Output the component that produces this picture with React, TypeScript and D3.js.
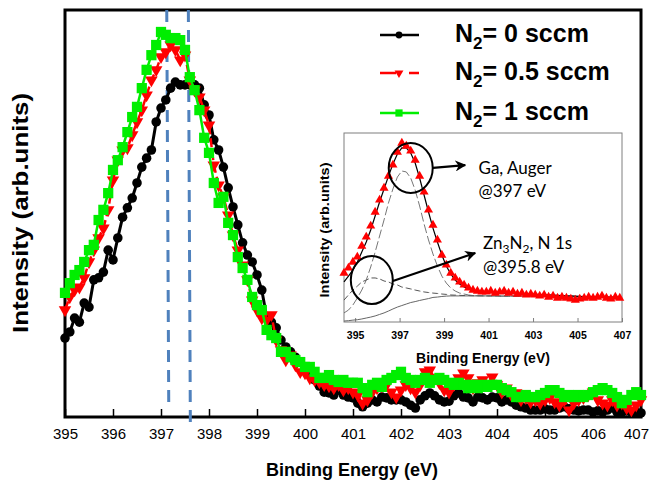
import { useEffect, useRef } from "react";
import * as d3 from "d3";

const W = 651;
const H = 481;

// main plot: binding energy grid (0.1 eV steps)
const ENERGY = d3.range(121).map((i) => +(395 + i * 0.1).toFixed(1));

const N2_0 = [
  19.4, 20.9, 24.3, 23.3, 28.0, 27.0, 33.7, 34.2, 35.6, 41.0,
  38.6, 44.0, 49.1, 51.4, 53.8, 57.5, 61.4, 63.6, 65.6, 72.5,
  75.9, 77.9, 80.8, 82.3, 81.6, 81.6, 81.6, 81.6, 80.8, 76.7,
  74.2, 68.1, 65.6, 61.4, 56.3, 51.6, 47.2, 42.8, 39.8, 38.1,
  34.9, 31.2, 24.6, 23.3, 21.9, 18.9, 17.2, 16.0, 14.7, 13.5,
  12.3, 11.1, 9.1, 7.6, 6.1, 5.9, 5.4, 6.6, 5.4, 4.9,
  4.7, 3.4, 2.5, 3.4, 4.2, 3.7, 4.9, 4.7, 4.2, 4.2,
  4.2, 3.7, 2.9, 2.2, 4.2, 5.2, 5.9, 5.2, 4.2, 3.7,
  3.9, 5.2, 5.9, 4.9, 4.7, 3.7, 4.9, 4.7, 4.2, 4.9,
  4.7, 3.7, 4.2, 3.7, 2.9, 2.5, 2.2, 1.7, 1.7, 1.7,
  2.0, 1.7, 1.7, 2.2, 2.5, 2.0, 1.7, 1.5, 1.7, 1.7,
  1.2, 1.5, 1.2, 1.7, 2.2, 1.2, 1.2, 1.5, 1.2, 1.2,
  1.0,
];

const N2_05 = [
  26.3, 29.5, 31.2, 31.9, 34.2, 38.1, 41.0, 44.0, 46.4, 50.9,
  58.2, 63.1, 65.6, 66.1, 69.3, 72.5, 75.4, 79.1, 82.8, 85.3,
  88.5, 89.7, 91.4, 90.2, 87.7, 88.9, 82.8, 80.3, 78.6, 75.4,
  71.7, 61.9, 57.0, 54.1, 49.6, 44.7, 41.0, 37.3, 33.7, 28.7,
  26.3, 24.3, 23.8, 25.1, 18.9, 16.5, 14.0, 15.2, 12.8, 11.1,
  10.8, 9.6, 9.1, 8.6, 7.9, 7.6, 7.1, 7.9, 6.6, 7.1,
  6.1, 5.4, 3.4, 4.2, 6.1, 7.1, 7.6, 7.9, 6.1, 4.9,
  6.6, 7.9, 7.1, 6.1, 7.9, 11.1, 11.5, 9.6, 8.4, 6.6,
  6.1, 7.9, 9.6, 10.8, 9.6, 7.1, 8.4, 9.1, 7.9, 9.8,
  7.9, 6.1, 7.1, 5.4, 5.9, 4.2, 4.7, 3.7, 4.2, 3.4,
  4.2, 4.7, 3.7, 2.9, 4.2, 1.7, 3.4, 4.2, 4.7, 5.4,
  6.1, 4.2, 3.4, 2.9, 4.2, 2.9, 3.4, 2.2, 1.7, 2.9,
  4.2,
];

const N2_1 = [
  30.5, 32.9, 34.9, 36.1, 38.1, 41.0, 42.3, 48.4, 50.9, 55.0,
  60.7, 63.1, 66.3, 70.0, 73.7, 76.2, 80.8, 85.3, 88.9, 91.4,
  94.6, 93.9, 93.1, 93.1, 92.6, 90.2, 83.5, 80.3, 75.4, 68.6,
  64.9, 57.5, 52.6, 54.1, 47.7, 44.7, 39.3, 36.6, 33.7, 29.5,
  27.5, 26.3, 21.4, 20.1, 19.4, 16.0, 16.0, 14.7, 14.0, 13.5,
  12.3, 12.3, 11.1, 9.6, 9.6, 10.3, 9.1, 8.6, 9.1, 8.4,
  8.4, 8.4, 7.1, 6.1, 7.9, 8.4, 7.4, 9.1, 9.6, 10.3,
  11.1, 9.6, 9.1, 8.4, 9.1, 9.6, 8.4, 9.1, 9.6, 9.1,
  8.4, 7.9, 8.4, 7.9, 7.1, 7.9, 7.1, 7.9, 7.4, 7.9,
  7.9, 7.1, 6.6, 6.1, 4.9, 4.9, 5.4, 4.9, 4.9, 5.4,
  5.9, 6.6, 6.6, 5.9, 4.9, 5.4, 4.9, 5.4, 4.9, 5.4,
  6.1, 6.6, 7.1, 6.6, 5.9, 4.9, 3.4, 4.2, 5.4, 6.1,
  5.4,
];

const X_TICKS = [395, 396, 397, 398, 399, 400, 401, 402, 403, 404, 405, 406, 407];
const X_MINOR = d3.range(0, 61).map((i) => +(395 + i * 0.2).toFixed(1));
const PEAK_LINES = [397.12, 397.57];

// inset: fit of the 0.5 sccm spectrum (0.2 eV steps)
const INSET_ENERGY = d3.range(63).map((i) => +(394.5 + i * 0.2).toFixed(1));

const INSET_DATA = [
  25.9, 28.6, 31.7, 34.4, 40.2, 45.0, 50.8, 58.2,
  64.6, 70.9, 77.2, 83.1, 89.9,
  94.7, 93.1, 90.5, 85.7, 77.2,
  68.8, 59.3, 51.3, 43.4, 35.4,
  30.2, 25.9, 23.3, 21.2, 19.6,
  18.0, 16.9, 16.4, 15.9, 15.9,
  16.4, 15.3, 15.9, 16.4, 15.3,
  15.9, 14.8, 15.3, 14.3, 14.8,
  14.3, 13.8, 14.3, 13.2, 13.8,
  12.7, 13.2, 12.7, 12.2, 11.6,
  12.2, 12.7, 13.2, 12.7, 13.2,
  13.8, 12.7, 12.2, 13.2, 12.7,
];

const INSET_ENVELOPE = [
  21.2, 24.3, 27.5, 31.7, 37.0, 42.3, 48.7, 56.1,
  63.5, 70.4, 77.2, 83.6, 88.9,
  92.1, 92.1, 89.4, 84.1, 76.2,
  67.2, 58.2, 49.7, 42.3, 35.4,
  29.6, 25.4, 22.2, 20.1, 18.5,
  17.5, 16.9, 16.4, 16.1, 15.9,
  15.7, 15.6, 15.4, 15.3, 15.2,
  15.1, 15.0, 14.9, 14.8, 14.7,
  14.6, 14.5, 14.4, 14.3, 14.2,
  14.1, 14.0, 13.9, 13.8, 13.7,
  13.6, 13.5, 13.4, 13.3, 13.3,
  13.2, 13.2, 13.1, 13.1, 13.0,
];

const INSET_AUGER = [
  4.8, 6.3, 9.0, 12.7, 16.9, 22.2, 29.1, 37.0,
  45.5, 54.0, 63.0, 70.4, 76.7,
  79.9, 79.4, 76.2, 69.8, 61.4,
  51.9, 43.4, 36.0, 29.6, 24.3,
  20.6, 18.0, 16.4, 15.3, 14.8,
  14.3, 14.0, 13.9, 13.8, 13.8,
  13.8, 13.8, 13.7, 13.7, 13.7,
  13.7, 13.7, 13.7, 13.7, 13.7,
  13.5, 13.5, 13.5, 13.5, 13.5,
  13.5, 13.5, 13.5, 13.3, 13.3,
  13.3, 13.3, 13.3, 13.3, 13.1,
  13.1, 13.1, 13.1, 13.1, 13.1,
];

const INSET_N1S = [
  11.6, 14.3, 16.9, 19.0, 21.2, 22.2, 23.3, 23.3,
  22.8, 21.7, 21.2, 20.1, 19.6,
  18.5, 18.0, 17.5, 16.9, 16.4,
  15.9, 15.6, 15.3, 15.1, 14.8,
  14.6, 14.3, 14.2, 14.1, 14.0,
  14.0, 13.9, 13.9, 13.9, 13.8,
  13.8, 13.8, 13.7, 13.7, 13.7,
  13.7, 13.7, 13.7, 13.7, 13.7,
  13.5, 13.5, 13.5, 13.5, 13.5,
  13.5, 13.5, 13.5, 13.3, 13.3,
  13.3, 13.3, 13.3, 13.3, 13.1,
  13.1, 13.1, 13.1, 13.1, 13.1,
];

const INSET_BACKGROUND = [
  0.5, 0.7, 1.0, 1.2, 1.6, 2.1, 2.6, 3.2,
  4.0, 4.8, 5.8, 6.9, 7.9,
  8.7, 9.5, 10.3, 10.8, 11.4,
  11.9, 12.4, 13.0, 13.2, 13.5,
  13.7, 13.8, 13.8, 13.8, 13.8,
  13.8, 13.8, 13.8, 13.8, 13.8,
  13.8, 13.8, 13.7, 13.7, 13.7,
  13.7, 13.7, 13.7, 13.7, 13.7,
  13.5, 13.5, 13.5, 13.5, 13.5,
  13.5, 13.5, 13.5, 13.3, 13.3,
  13.3, 13.3, 13.3, 13.3, 13.1,
  13.1, 13.1, 13.1, 13.1, 13.1,
];

const INSET_TICKS = [395, 397, 399, 401, 403, 405, 407];

const SERIES = [
  { name: "0", values: N2_0, color: "#000000", shape: "circle", dash: null },
  { name: "0.5", values: N2_05, color: "#ff0000", shape: "triangle", dash: "9 4" },
  { name: "1", values: N2_1, color: "#00ee00", shape: "square", dash: null },
];

const ARIAL = "'Liberation Sans', Arial, sans-serif";
const CALIBRI = "Lato, 'Open Sans', sans-serif";

export default function App() {
  const ref = useRef<SVGSVGElement>(null);

  useEffect(() => {
    if (!ref.current) return;
    const svg = d3.select(ref.current);
    svg.selectAll("*").remove();

    svg.append("rect").attr("width", W).attr("height", H).attr("fill", "#fff");

    const x = d3.scaleLinear().domain([395, 407]).range([65, 641]);
    const y = d3.scaleLinear().domain([0, 100]).range([417, 10]);

    // frame
    svg
      .append("rect")
      .attr("x", x(395))
      .attr("y", y(100))
      .attr("width", x(407) - x(395))
      .attr("height", y(0) - y(100))
      .attr("fill", "none")
      .attr("stroke", "#000")
      .attr("stroke-width", 3);

    // x axis (ticks point inward)
    const ax = svg.append("g").attr("transform", `translate(0,${y(0)})`);
    ax.call(d3.axisBottom(x).tickValues(X_MINOR).tickSize(-4).tickFormat(() => ""));
    ax.call(
      d3
        .axisBottom(x)
        .tickValues(X_TICKS)
        .tickSize(-8)
        .tickPadding(11)
        .tickFormat(d3.format("d"))
    );
    ax.selectAll(".domain").remove();
    ax.selectAll("line").attr("stroke", "#000").attr("stroke-width", 1.5);
    ax.selectAll("text")
      .attr("font-family", ARIAL)
      .attr("font-size", 15)
      .attr("fill", "#000")
      .attr("dx", (d) => ((d as number) === 407 ? -5 : 0));

    // peak guide lines
    PEAK_LINES.forEach((e, i) => {
      svg
        .append("line")
        .attr("x1", x(e))
        .attr("x2", x(e) + 2)
        .attr("y1", y(100))
        .attr("y2", i === 0 ? y(0) - 8 : y(0) + 8)
        .attr("stroke", "#4f81bd")
        .attr("stroke-width", 3)
        .attr("stroke-dasharray", "12 8");
    });

    const line = d3
      .line<number>()
      .x((_, i) => x(ENERGY[i]))
      .y((d) => y(d));

    const symbolPath = (shape: string, scale = 1) => {
      if (shape === "circle") return d3.symbol(d3.symbolCircle, 72 * scale)()!;
      if (shape === "triangle") return d3.symbol(d3.symbolTriangle, 68 * scale)()!;
      return d3.symbol(d3.symbolSquare, 105 * scale)()!;
    };

    SERIES.forEach((s) => {
      const g = svg.append("g");
      g.append("path")
        .datum(s.values)
        .attr("fill", "none")
        .attr("stroke", s.color)
        .attr("stroke-width", s.shape === "circle" ? 3 : 2.5)
        .attr("stroke-dasharray", s.dash)
        .attr("d", line);
      g.selectAll("path.m")
        .data(s.values)
        .join("path")
        .attr("class", "m")
        .attr("d", symbolPath(s.shape))
        .attr(
          "transform",
          (d, i) =>
            `translate(${x(ENERGY[i])},${y(d)})${s.shape === "triangle" ? " rotate(180)" : ""}`
        )
        .attr("fill", s.color);
    });

    // y label
    svg
      .append("text")
      .attr("transform", `translate(28,${(93 + 333) / 2}) rotate(-90)`)
      .attr("text-anchor", "middle")
      .attr("font-family", ARIAL)
      .attr("font-weight", "bold")
      .attr("font-size", 22)
      .attr("textLength", 240)
      .attr("lengthAdjust", "spacingAndGlyphs")
      .text("Intensity (arb.units)");

    // x label
    svg
      .append("text")
      .attr("x", 352)
      .attr("y", 476)
      .attr("text-anchor", "middle")
      .attr("font-family", ARIAL)
      .attr("font-weight", "bold")
      .attr("font-size", 18)
      .text("Binding Energy (eV)");

    // legend
    const legY = [35, 73, 113];
    SERIES.forEach((s, i) => {
      const lg = svg.append("g").attr("transform", `translate(380,${legY[i]})`);
      lg.append("line")
        .attr("x1", 0)
        .attr("x2", 39)
        .attr("stroke", s.color)
        .attr("stroke-width", 2.5)
        .attr("stroke-dasharray", s.dash ? "16 13 10" : null);
      lg.append("path")
        .attr("d", symbolPath(s.shape, 0.5))
        .attr("transform", `translate(19,0)${s.shape === "triangle" ? " rotate(180)" : ""}`)
        .attr("fill", s.color);
      const t = lg
        .append("text")
        .attr("x", 75)
        .attr("y", 7)
        .attr("font-family", ARIAL)
        .attr("font-weight", "bold")
        .attr("font-size", 25);
      t.append("tspan").text("N");
      t.append("tspan").attr("font-size", 17).attr("dy", 7).text("2");
      t.append("tspan").attr("dy", -7).text(`= ${s.name} sccm`);
    });

    // ---------- inset ----------
    const xi = d3.scaleLinear().domain([394.5, 407]).range([344, 622]);
    const yi = d3.scaleLinear().domain([0, 100]).range([322, 133]);

    svg
      .append("rect")
      .attr("x", xi(394.5))
      .attr("y", yi(100))
      .attr("width", xi(407) - xi(394.5))
      .attr("height", yi(0) - yi(100))
      .attr("fill", "#fff")
      .attr("stroke", "#7f7f7f")
      .attr("stroke-width", 1);

    const iax = svg.append("g").attr("transform", `translate(0,${yi(0)})`);
    iax.call(
      d3
        .axisBottom(xi)
        .tickValues(INSET_TICKS)
        .tickSize(-4)
        .tickPadding(10)
        .tickFormat(d3.format("d"))
    );
    iax.selectAll(".domain").remove();
    iax.selectAll("line").attr("stroke", "#7f7f7f");
    iax.selectAll("text")
      .attr("font-family", ARIAL)
      .attr("font-weight", "bold")
      .attr("font-size", 10.5)
      .attr("fill", "#000");

    const iline = d3
      .line<number>()
      .x((_, i) => xi(INSET_ENERGY[i]))
      .y((d) => yi(d));

    svg.append("path")
      .datum(INSET_BACKGROUND)
      .attr("fill", "none")
      .attr("stroke", "#666")
      .attr("stroke-width", 1)
      .attr("d", iline);
    svg.append("path")
      .datum(INSET_N1S)
      .attr("fill", "none")
      .attr("stroke", "#555")
      .attr("stroke-width", 1)
      .attr("stroke-dasharray", "6 3")
      .attr("d", iline);
    svg.append("path")
      .datum(INSET_AUGER)
      .attr("fill", "none")
      .attr("stroke", "#666")
      .attr("stroke-width", 0.9)
      .attr("stroke-dasharray", "9 3")
      .attr("d", iline);
    svg.append("path")
      .datum(INSET_ENVELOPE)
      .attr("fill", "none")
      .attr("stroke", "#000")
      .attr("stroke-width", 1.2)
      .attr("d", iline);

    svg.append("g")
      .selectAll("path")
      .data(INSET_DATA)
      .join("path")
      .attr("d", d3.symbol(d3.symbolTriangle, 36)()!)
      .attr("transform", (d, i) => `translate(${xi(INSET_ENERGY[i])},${yi(d)})`)
      .attr("fill", "#ff0000");

    svg
      .append("text")
      .attr("transform", `translate(329,230) rotate(-90)`)
      .attr("text-anchor", "middle")
      .attr("font-family", ARIAL)
      .attr("font-weight", "bold")
      .attr("font-size", 13)
      .attr("textLength", 135)
      .attr("lengthAdjust", "spacingAndGlyphs")
      .text("Intensity (arb.units)");

    svg
      .append("text")
      .attr("x", 483)
      .attr("y", 363)
      .attr("text-anchor", "middle")
      .attr("font-family", ARIAL)
      .attr("font-weight", "bold")
      .attr("font-size", 14)
      .text("Binding Energy (eV)");

    // annotations
    const defs = svg.append("defs");
    defs
      .append("marker")
      .attr("id", "arrow")
      .attr("viewBox", "0 0 10 10")
      .attr("refX", 9)
      .attr("refY", 5)
      .attr("markerWidth", 5)
      .attr("markerHeight", 5)
      .attr("orient", "auto")
      .append("path")
      .attr("d", "M0,0 L10,5 L0,10 L3,5 Z")
      .attr("fill", "#000");

    const notes = [
      {
        cx: 397.5, cy: 81.5, rx: 22, ry: 25,
        from: [398.5, 81.5], to: [399.95, 83],
        tx: 400.55, lines: [78.3, 66.1],
      },
      {
        cx: 395.75, cy: 22.2, rx: 21, ry: 24,
        from: [396.7, 21.7], to: [400.4, 36.5],
        tx: 400.75, lines: [38.6, 25.9],
      },
    ];
    notes.forEach((n, k) => {
      svg.append("ellipse")
        .attr("cx", xi(n.cx))
        .attr("cy", yi(n.cy))
        .attr("rx", n.rx)
        .attr("ry", n.ry)
        .attr("fill", "none")
        .attr("stroke", "#000")
        .attr("stroke-width", 2);
      svg.append("line")
        .attr("x1", xi(n.from[0]))
        .attr("y1", yi(n.from[1]))
        .attr("x2", xi(n.to[0]))
        .attr("y2", yi(n.to[1]))
        .attr("stroke", "#000")
        .attr("stroke-width", 2.2)
        .attr("marker-end", "url(#arrow)");
      const t1 = svg.append("text")
        .attr("x", xi(n.tx))
        .attr("y", yi(n.lines[0]))
        .attr("font-family", CALIBRI)
        .attr("font-size", 17);
      if (k === 0) {
        t1.text("Ga, Auger");
      } else {
        t1.append("tspan").text("Zn");
        t1.append("tspan").attr("font-size", 12).attr("dy", 4).text("3");
        t1.append("tspan").attr("dy", -4).text("N");
        t1.append("tspan").attr("font-size", 12).attr("dy", 4).text("2");
        t1.append("tspan").attr("dy", -4).text(", N 1s");
      }
      svg.append("text")
        .attr("x", xi(n.tx))
        .attr("y", yi(n.lines[1]))
        .attr("font-family", CALIBRI)
        .attr("font-size", 17)
        .text(k === 0 ? "@397 eV" : "@395.8 eV");
    });
  }, []);

  return (
    <svg
      ref={ref}
      width={W}
      height={H}
      style={{ position: "absolute", left: 0, top: 0 }}
    />
  );
}
